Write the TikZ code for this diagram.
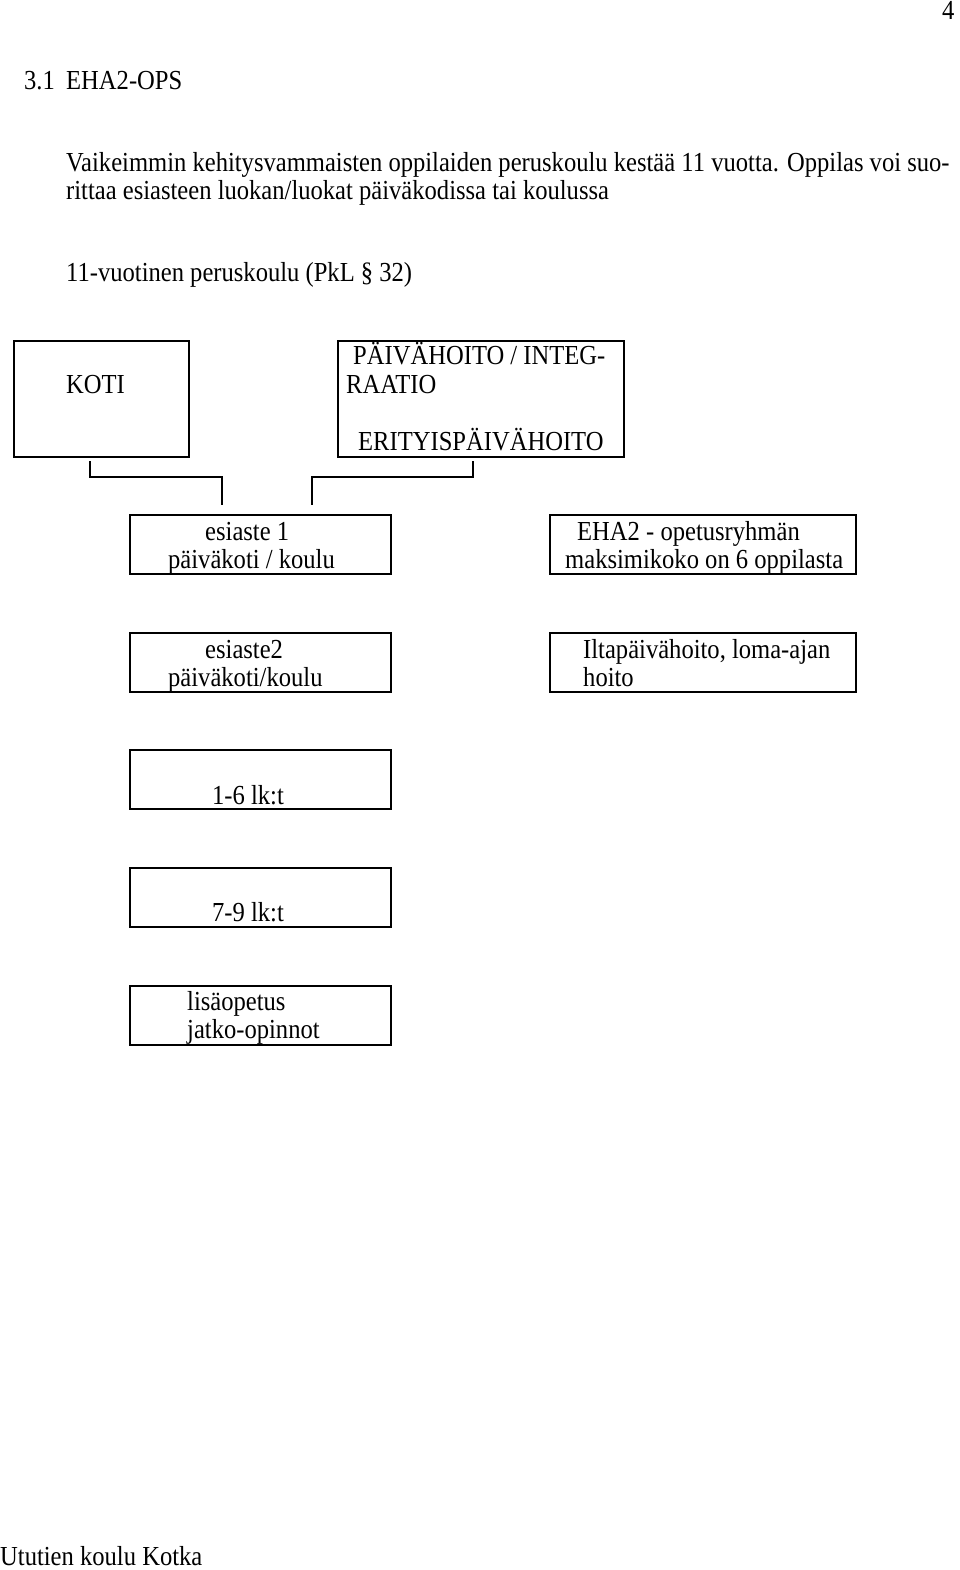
\documentclass[tikz,border=0pt]{standalone}
\usepackage{fontspec}
\setmainfont{Liberation Serif}[FakeStretch=0.894]
\begin{document}
\begin{tikzpicture}[x=1pt,y=-1pt,
  box/.style={draw,line width=1.6pt,inner sep=0pt},
  txt/.style={anchor=base west,inner sep=0pt,font=\fontsize{27.5}{30}\selectfont},
  link/.style={line width=1.6pt}]
\useasboundingbox (0,0) rectangle (960,1570);
% boxes
\node[box,minimum width=175,minimum height=116] (koti) at (101.5,399) {};
\node[box,minimum width=286,minimum height=116] (paiva) at (481,399) {};
\node[box,minimum width=261,minimum height=59] (es1) at (260.5,544.5) {};
\node[box,minimum width=306,minimum height=59] (eha) at (703,544.5) {};
\node[box,minimum width=261,minimum height=59] (es2) at (260.5,662.5) {};
\node[box,minimum width=306,minimum height=59] (ilta) at (703,662.5) {};
\node[box,minimum width=261,minimum height=59] (lk16) at (260.5,779.5) {};
\node[box,minimum width=261,minimum height=59] (lk79) at (260.5,897.5) {};
\node[box,minimum width=261,minimum height=59] (lisa) at (260.5,1015.5) {};
% texts
\node[txt] (pnum) at (942,20) {4};
\node[txt] (sec) at (24,90) {3.1};
\node[txt] (title) at (66,90) {EHA2-OPS};
\node[txt] (p1) at (66,172) {Vaikeimmin kehitysvammaisten oppilaiden peruskoulu kestää 11 vuotta. Oppilas voi suo-};
\node[txt] (p2) at (66,200) {rittaa esiasteen luokan/luokat päiväkodissa tai koulussa};
\node[txt] (p3) at (66,281) {11-vuotinen peruskoulu (PkL § 32)};
\node[txt] (tkoti) at (66,393) {KOTI};
\node[txt] (tp1) at (353,364) {PÄIVÄHOITO / INTEG-};
\node[txt] (tp2) at (346,393) {RAATIO};
\node[txt] (tp3) at (358,450) {ERITYISPÄIVÄHOITO};
\node[txt] (te1a) at (205,540) {esiaste 1};
\node[txt] (te1b) at (168,568) {päiväkoti / koulu};
\node[txt] (tea) at (577,540) {EHA2 - opetusryhmän};
\node[txt] (teb) at (565,568) {maksimikoko on 6 oppilasta};
\node[txt] (te2a) at (205,658) {esiaste2};
\node[txt] (te2b) at (168,686) {päiväkoti/koulu};
\node[txt] (tia) at (583,658) {Iltapäivähoito, loma-ajan};
\node[txt] (tib) at (583,686) {hoito};
\node[txt] (t16) at (212,804) {1-6 lk:t};
\node[txt] (t79) at (212,921) {7-9 lk:t};
\node[txt] (tla) at (187,1010) {lisäopetus};
\node[txt] (tlb) at (187,1038) {jatko-opinnot};
\node[txt] (foot) at (0,1565) {Ututien koulu Kotka};
% connectors
\coordinate (k1) at (90,461);
\coordinate (k2) at (222,505);
\coordinate (p1c) at (473,461);
\coordinate (p2c) at (312,505);
\draw[link] (k1) -- ++(0,16) -| (k2);
\draw[link] (p1c) -- ++(0,16) -| (p2c);
\end{tikzpicture}
\end{document}
